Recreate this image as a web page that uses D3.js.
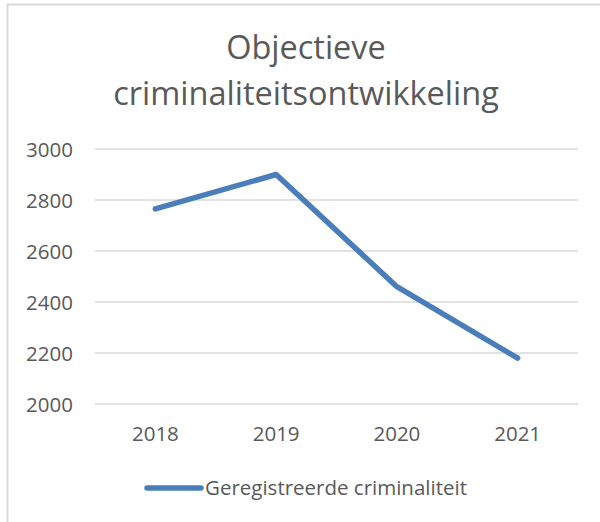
<!DOCTYPE html>
<html>
<head>
<meta charset="utf-8">
<script src="https://cdn.jsdelivr.net/npm/d3@7"></script>
<style>
  body { margin: 0; background: #fff; }
  text { font-family: "Open Sans", "Noto Sans", sans-serif; fill: #595959; }
</style>
</head>
<body>
<svg id="chart" width="600" height="522"></svg>
<script>
// data
var years = ['2018', '2019', '2020', '2021'];
var values = [2765, 2900, 2460, 2180];
var yTicks = [2000, 2200, 2400, 2600, 2800, 3000];
var titleLines = ['Objectieve', 'criminaliteitsontwikkeling'];
var seriesName = 'Geregistreerde criminaliteit';

var svg = d3.select('#chart');
var blue = '#4a7ebb';

// chart frame (right/bottom edges fall outside the picture)
svg.append('rect')
   .attr('x', 7.5).attr('y', 4.5)
   .attr('width', 620).attr('height', 540)
   .attr('fill', '#fff')
   .attr('stroke', '#d9d9d9')
   .attr('stroke-width', 2);

var plot = {left: 95, right: 578, top: 149, bottom: 404};

var x = d3.scaleBand().domain(years).range([plot.left, plot.right]);
var y = d3.scaleLinear().domain([2000, 3000]).range([plot.bottom, plot.top]);

// title
svg.append('g').selectAll('text').data(titleLines).enter().append('text')
   .attr('x', 306)
   .attr('y', function(d, i){ return 59 + i * 46; })
   .attr('text-anchor', 'middle')
   .style('font-size', '32.5px')
   .text(function(d){ return d; });

// grid lines
svg.append('g').selectAll('line').data(yTicks).enter().append('line')
   .attr('x1', plot.left).attr('x2', plot.right)
   .attr('y1', function(d){ return y(d); })
   .attr('y2', function(d){ return y(d); })
   .attr('stroke', '#d9d9d9')
   .attr('stroke-width', 1.5);

// y axis labels
var yAxis = d3.axisLeft(y).tickValues(yTicks).tickFormat(d3.format('d')).tickSize(0).tickPadding(0);
svg.append('g')
   .attr('transform', 'translate(73,0)')
   .call(yAxis)
   .call(function(g){ g.select('.domain').remove(); })
   .selectAll('text')
   .attr('dy', '0.35em')
   .style('font-size', '20.5px')
   .style('font-family', '"Open Sans", sans-serif')
   .attr('fill', '#595959');

// x axis labels
var xAxis = d3.axisBottom(x).tickSize(0).tickPadding(0);
svg.append('g')
   .attr('transform', 'translate(0,' + (plot.bottom + 22) + ')')
   .call(xAxis)
   .call(function(g){ g.select('.domain').remove(); })
   .selectAll('text')
   .attr('dy', '0.71em')
   .style('font-size', '20.5px')
   .style('font-family', '"Open Sans", sans-serif')
   .attr('fill', '#595959');

// series line
var line = d3.line()
   .x(function(d, i){ return x(years[i]) + x.bandwidth() / 2; })
   .y(function(d){ return y(d); });

svg.append('path')
   .datum(values)
   .attr('d', line)
   .attr('fill', 'none')
   .attr('stroke', blue)
   .attr('stroke-width', 5.5)
   .attr('stroke-linejoin', 'round')
   .attr('stroke-linecap', 'round');

// legend
var legend = svg.append('g').attr('transform', 'translate(147,488)');
legend.append('line')
   .attr('x1', 0).attr('x2', 54)
   .attr('y1', 0).attr('y2', 0)
   .attr('stroke', blue)
   .attr('stroke-width', 5.5)
   .attr('stroke-linecap', 'round');
legend.append('text')
   .attr('x', 58).attr('y', 7)
   .style('font-size', '20.5px')
   .text(seriesName);
</script>
</body>
</html>
